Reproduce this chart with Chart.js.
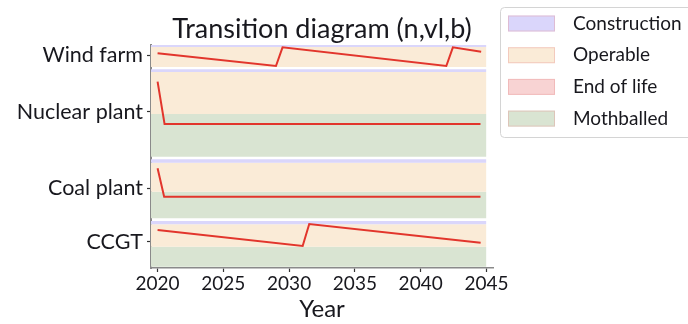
<!DOCTYPE html>
<html>
<head>
<meta charset="utf-8">
<script src="https://cdn.jsdelivr.net/npm/chart.js@4"></script>
<style>
  html, body { margin: 0; padding: 0; background: #ffffff; }
  #wrap { width: 688px; height: 324px; }
</style>
</head>
<body>
<div id="wrap"><canvas id="c" width="688" height="324"></canvas></div>
<script>
// Asset rows (y positions of the category ticks) and their labels
const assetNames = ['Wind farm', 'Nuclear plant', 'Coal plant', 'CCGT'];
const assetTickValues = [213, 156.3, 80, 26.3];

// Year ticks
const yearTicks = [2020, 2025, 2030, 2035, 2040, 2045];

// State bands: lower and upper edge on the y scale, and the state they show
const bandState = ['Construction', 'Operable',
                   'Construction', 'Operable', 'Mothballed',
                   'Construction', 'Operable', 'Mothballed',
                   'Construction', 'Operable', 'Mothballed'];
const bandLow  = [221,   201,   196,   154,   111.3, 105.3, 76.3,  49.7, 43.7, 21.3, 1.3];
const bandHigh = [223,   221,   198.7, 196,   154,   108.7, 105.3, 76.3, 47,   43.7, 21.3];
const bandYears = [2019.5, 2045];

// State trajectories of each asset
const windYears    = [2020, 2029.0, 2029.5, 2041.95, 2042.45, 2044.6];
const windValues   = [214.7, 202, 220.7, 202, 220.7, 216.3];
const nuclearYears = [2020, 2020.53, 2044.55];
const nuclearValues= [186.3, 144, 144];
const coalYears    = [2020, 2020.5, 2044.55];
const coalValues   = [99.7, 71.3, 71.3];
const ccgtYears    = [2020, 2031.03, 2031.53, 2044.56];
const ccgtValues   = [38, 22, 44, 25.3];

const legendLabels = ['Construction', 'Operable', 'End of life', 'Mothballed'];
const stateColors = {
  'Construction': 'rgb(218,214,251)',
  'Operable':     'rgb(250,235,215)',
  'End of life':  'rgb(248,211,211)',
  'Mothballed':   'rgb(217,228,210)'
};
const lineColor = '#e2352c';
const FONT = 'Lato, "Open Sans", sans-serif';
const TEXT = '#18181e';

const pts = (xs, ys) => xs.map((x, i) => ({ x: x, y: ys[i] }));

const datasets = [];
bandState.forEach((s, i) => {
  datasets.push({
    data: pts(bandYears, [bandHigh[i], bandHigh[i]]),
    borderWidth: 0,
    pointRadius: 0,
    backgroundColor: stateColors[s],
    fill: { value: bandLow[i] },
    order: 2
  });
});
[[windYears, windValues], [nuclearYears, nuclearValues],
 [coalYears, coalValues], [ccgtYears, ccgtValues]].forEach(([xs, ys]) => {
  datasets.push({
    data: pts(xs, ys),
    borderColor: lineColor,
    borderWidth: 2,
    pointRadius: 0,
    fill: false,
    tension: 0,
    order: 1
  });
});

// Legend box drawn beside the axes
const sideLegend = {
  id: 'sideLegend',
  afterDraw(chart) {
    const ctx = chart.ctx;
    ctx.save();
    const x0 = 500.5, y0 = 7.5, w = 200, h = 130, r = 4;
    ctx.beginPath();
    ctx.moveTo(x0 + r, y0);
    ctx.lineTo(x0 + w, y0);
    ctx.lineTo(x0 + w, y0 + h);
    ctx.lineTo(x0 + r, y0 + h);
    ctx.arcTo(x0, y0 + h, x0, y0 + h - r, r);
    ctx.lineTo(x0, y0 + r);
    ctx.arcTo(x0, y0, x0 + r, y0, r);
    ctx.closePath();
    ctx.fillStyle = '#ffffff';
    ctx.fill();
    ctx.strokeStyle = '#d4d4d4';
    ctx.lineWidth = 1;
    ctx.stroke();
    ctx.font = '19px ' + FONT;
    ctx.textBaseline = 'middle';
    ctx.textAlign = 'left';
    legendLabels.forEach((lab, i) => {
      const cy = 23.5 + i * 31.7;
      ctx.fillStyle = stateColors[lab];
      ctx.fillRect(508, cy - 8, 47, 16);
      ctx.strokeStyle = 'rgba(230,140,140,0.35)';
      ctx.strokeRect(508.5, cy - 7.5, 46, 15);
      ctx.fillStyle = TEXT;
      ctx.fillText(lab, 573, cy);
    });
    ctx.restore();
  }
};

new Chart(document.getElementById('c'), {
  type: 'line',
  data: { datasets: datasets },
  options: {
    responsive: false,
    animation: false,
    layout: { padding: { left: 0, right: 195, top: 0, bottom: 0 } },
    plugins: {
      legend: { display: false },
      tooltip: { enabled: false },
      title: {
        display: true,
        text: 'Transition diagram (n,vl,b)',
        fullSize: false,
        color: TEXT,
        font: { family: FONT, size: 27, weight: 'normal' },
        padding: { top: 12.6, bottom: 0 }
      }
    },
    scales: {
      x: {
        type: 'linear',
        min: 2019.5,
        max: 2045.5,
        afterBuildTicks(scale) { scale.ticks = yearTicks.map(v => ({ value: v })); },
        afterFit(scale) { scale.height = 56; },
        ticks: {
          color: TEXT,
          font: { family: FONT, size: 19 },
          padding: 0,
          maxRotation: 0,
          callback: v => String(v)
        },
        grid: { drawOnChartArea: false, tickLength: 4, tickColor: '#333', tickWidth: 1.2 },
        border: { color: '#8a8a8a', width: 1.5 },
        title: {
          display: true,
          text: 'Year',
          color: TEXT,
          font: { family: FONT, size: 24 },
          padding: { top: 0, bottom: 0 }
        }
      },
      y: {
        type: 'linear',
        min: 0,
        max: 223,
        afterBuildTicks(scale) { scale.ticks = assetTickValues.map(v => ({ value: v })); },
        afterFit(scale) { scale.width = 151; },
        ticks: {
          color: TEXT,
          font: { family: FONT, size: 21.5 },
          padding: 4,
          callback: (v, i) => assetNames[i]
        },
        grid: { drawOnChartArea: false, tickLength: 4, tickColor: '#333', tickWidth: 1.2 },
        border: { color: '#8a8a8a', width: 2 }
      }
    }
  },
  plugins: [sideLegend]
});
</script>
</body>
</html>
